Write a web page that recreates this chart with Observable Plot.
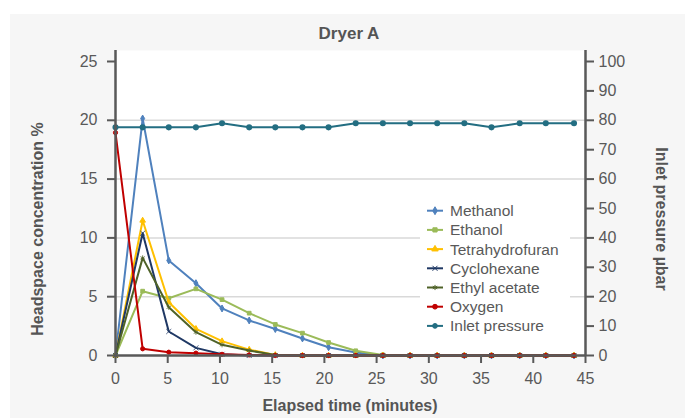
<!DOCTYPE html>
<html>
<head>
<meta charset="utf-8">
<script src="https://cdn.jsdelivr.net/npm/d3@7"></script>
<script src="https://cdn.jsdelivr.net/npm/@observablehq/plot@0.6"></script>
<style>
  html, body { margin: 0; padding: 0; background: #ffffff; overflow: hidden; }
  #chart { width: 685px; height: 418px; }
</style>
</head>
<body>
<div id="chart"></div>
<script>
// ---- data ----
const times = [0, 2.6, 5.1, 7.7, 10.2, 12.8, 15.3, 17.9, 20.4, 23.0, 25.6, 28.2, 30.8, 33.4, 36.0, 38.7, 41.2, 43.9];
const seriesNames = ["Methanol", "Ethanol", "Tetrahydrofuran", "Cyclohexane", "Ethyl acetate", "Oxygen"];
const methanol      = [0, 20.15, 8.08, 6.15, 4.0, 2.98, 2.25, 1.45, 0.7, 0.25, 0, 0, 0, 0, 0, 0, 0, 0];
const ethanol       = [0, 5.47, 4.87, 5.67, 4.75, 3.6, 2.64, 1.9, 1.1, 0.4, 0.05, 0, 0, 0, 0, 0, 0, 0];
const thf           = [0, 11.48, 4.53, 2.27, 1.22, 0.5, 0.05, 0, 0, 0, 0, 0, 0, 0, 0, 0, 0, 0];
const cyclohexane   = [0, 10.4, 2.04, 0.65, 0.1, 0, 0, 0, 0, 0, 0, 0, 0, 0, 0, 0, 0, 0];
const ethylAcetate  = [0, 8.3, 4.1, 1.98, 0.91, 0.42, 0.05, 0, 0, 0, 0, 0, 0, 0, 0, 0, 0, 0];
const oxygen        = [18.95, 0.57, 0.28, 0.2, 0.1, 0.05, 0, 0, 0, 0, 0, 0, 0, 0, 0, 0, 0, 0];
const inletPressureName = "Inlet pressure";
const inletPressure = [77.6, 77.6, 77.6, 77.6, 79, 77.6, 77.6, 77.6, 77.6, 79, 79, 79, 79, 79, 77.6, 79, 79, 79];
const timeTicks = [0, 5, 10, 15, 20, 25, 30, 35, 40, 45];
const concTicks = [0, 5, 10, 15, 20, 25];
const gridTicks = [5, 10, 15, 20];
const pressureTicks = [0, 10, 20, 30, 40, 50, 60, 70, 80, 90, 100];
const titleText = "Dryer A";
const xLabel = "Elapsed time (minutes)";
const yLabel = "Headspace concentration %";
const y2Label = "Inlet pressure µbar";

// ---- styles ----
const seriesValues = [methanol, ethanol, thf, cyclohexane, ethylAcetate, oxygen];
const colors = ["#4f81bd", "#9bbb59", "#ffc000", "#1f3864", "#4f6228", "#c00000"];
const symbols = ["diamond", "square", "triangle", "times", "asterisk", "circle"];
const d3Symbols = [d3.symbolDiamond, d3.symbolSquare, d3.symbolTriangle, d3.symbolTimes, d3.symbolAsterisk, d3.symbolCircle];
const inletColor = "#236e82";
const axisColor = "#595959";
const pressureMax = 100, concMax = 25;

const rows = [];
seriesNames.forEach((name, i) => seriesValues[i].forEach((v, j) => rows.push({time: times[j], value: v, series: name})));
const pRows = times.map((t, j) => ({time: t, pressure: inletPressure[j]}));
const toLeft = p => p * concMax / pressureMax;

const marks = [
  Plot.frame({fill: "white", stroke: "none", insetTop: -11}),
  Plot.gridY(gridTicks, {stroke: "#d9d9d9", strokeOpacity: 1, strokeWidth: 1.5})
];
seriesNames.forEach((name, i) => {
  const filt = d => d.series === name;
  marks.push(Plot.line(rows, {filter: filt, x: "time", y: "value", stroke: colors[i], strokeWidth: 2}));
  const isStroke = symbols[i] === "times" || symbols[i] === "asterisk";
  marks.push(Plot.dot(rows, {filter: filt, x: "time", y: "value", symbol: () => symbols[i], r: isStroke ? 2.4 : 2.1,
    fill: isStroke ? "none" : colors[i], stroke: colors[i], strokeWidth: isStroke ? 0.8 : 1}));
});
marks.push(Plot.line(pRows, {x: "time", y: d => toLeft(d.pressure), stroke: inletColor, strokeWidth: 2}));
marks.push(Plot.dot(pRows, {x: "time", y: d => toLeft(d.pressure), r: 2.3, fill: inletColor, stroke: inletColor}));
marks.push(
  Plot.ruleX([0, 45], {stroke: axisColor, strokeWidth: 2.5, insetTop: -11}),
  Plot.ruleY([0], {stroke: axisColor, strokeWidth: 2.5}),
  Plot.axisY(concTicks, {anchor: "left", tickSize: 8, tickPadding: 10, strokeWidth: 2, label: null, fontSize: 16}),
  Plot.axisY(pressureTicks.map(toLeft), {anchor: "right", tickSize: 8, tickPadding: 5, strokeWidth: 2, label: null, fontSize: 16,
    tickFormat: d => String(Math.round(d * pressureMax / concMax))}),
  Plot.axisX(timeTicks, {tickSize: 8, tickPadding: 9, strokeWidth: 2, label: null, fontSize: 16})
);

const chart = Plot.plot({
  width: 685,
  height: 418,
  marginTop: 61,
  marginBottom: 63,
  marginLeft: 115,
  marginRight: 100,
  x: {domain: [0, 45]},
  y: {domain: [0, concMax]},
  style: {fontFamily: "'Liberation Sans', Arial, sans-serif", fontSize: "16px", color: axisColor, background: "white", overflow: "visible"},
  marks
});
document.getElementById("chart").appendChild(chart);

// ---- decorations: panel, title, axis labels, legend ----
const svg = d3.select(chart);
svg.insert("rect", ":first-child").attr("x", 10).attr("y", 14).attr("width", 675).attr("height", 404).attr("fill", "#f6f6f6");
const font = "'Liberation Sans', Arial, sans-serif";
svg.append("text").attr("x", 349).attr("y", 33).attr("text-anchor", "middle").attr("dominant-baseline", "central")
  .attr("font-family", font).attr("font-weight", "bold").attr("font-size", 17).attr("fill", "#555").text(titleText);
svg.append("text").attr("transform", "translate(37,229) rotate(-90)").attr("text-anchor", "middle").attr("dominant-baseline", "central")
  .attr("font-family", font).attr("font-weight", "bold").attr("font-size", 16).attr("fill", "#555").text(yLabel);
svg.append("text").attr("transform", "translate(661,219) rotate(90)").attr("text-anchor", "middle").attr("dominant-baseline", "central")
  .attr("font-family", font).attr("font-weight", "bold").attr("font-size", 16).attr("fill", "#555").text(y2Label);
svg.append("text").attr("x", 350).attr("y", 405).attr("text-anchor", "middle").attr("dominant-baseline", "central")
  .attr("font-family", font).attr("font-weight", "bold").attr("font-size", 16).attr("fill", "#555").text(xLabel);

const legend = svg.append("g");
legend.append("rect").attr("x", 420).attr("y", 199).attr("width", 150).attr("height", 139).attr("fill", "#ffffff").attr("stroke", "none");
const legNames = seriesNames.concat([inletPressureName]);
const legColors = colors.concat([inletColor]);
const legSymbols = d3Symbols.concat([d3.symbolCircle]);
legNames.forEach((name, i) => {
  const y = 210.7 + i * 19.2;
  const g = legend.append("g");
  g.append("line").attr("x1", 427).attr("x2", 443).attr("y1", y).attr("y2", y).attr("stroke", legColors[i]).attr("stroke-width", 2);
  const strokeOnly = legSymbols[i] === d3.symbolTimes || legSymbols[i] === d3.symbolAsterisk;
  g.append("path").attr("transform", `translate(435,${y})`).attr("d", d3.symbol(legSymbols[i], 18)())
    .attr("fill", strokeOnly ? "none" : legColors[i]).attr("stroke", legColors[i]).attr("stroke-width", 1);
  g.append("text").attr("x", 450).attr("y", y).attr("text-anchor", "start").attr("dominant-baseline", "central")
    .attr("font-family", font).attr("font-size", 15.5).attr("fill", "#595959").text(name);
});
</script>
</body>
</html>
